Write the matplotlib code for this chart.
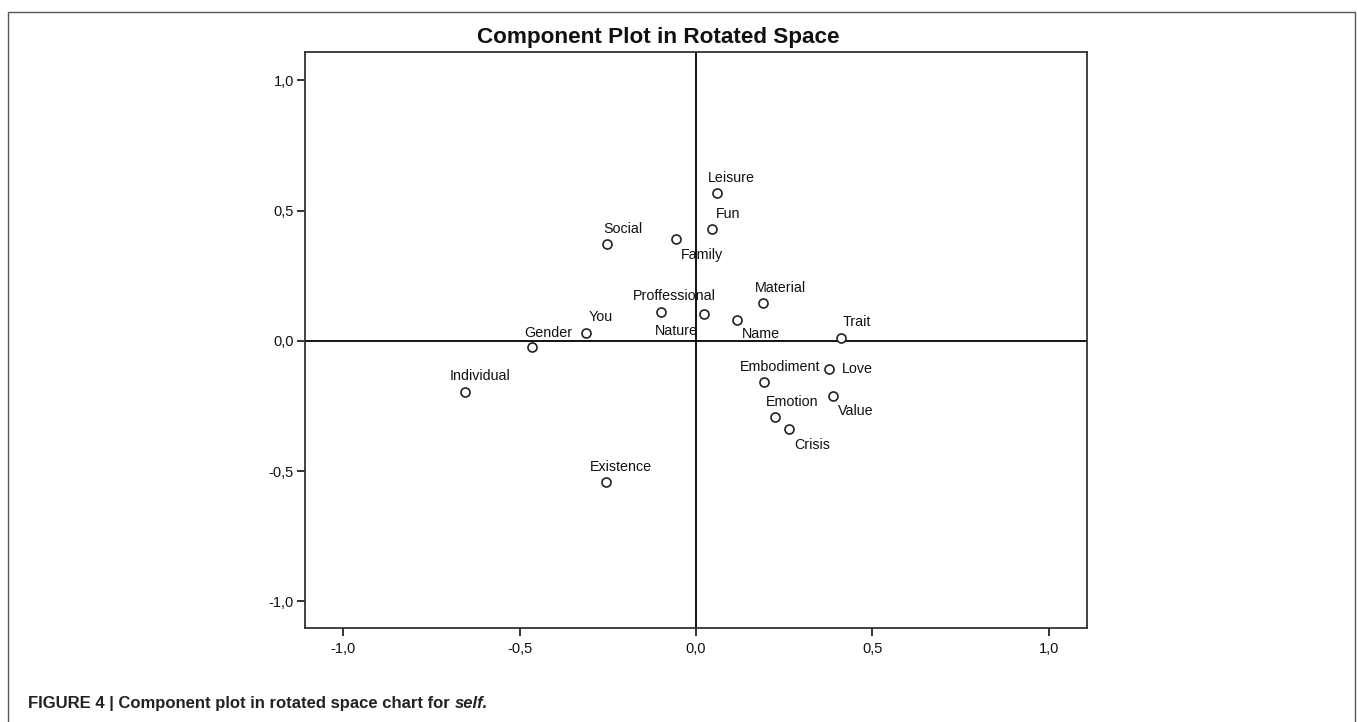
import matplotlib.pyplot as plt
from matplotlib.patches import Rectangle

plt.rcParams['font.family'] = ['Liberation Sans', 'DejaVu Sans']

# Component loadings (rotated space)
names = ['Leisure', 'Fun', 'Family', 'Social', 'Proffessional', 'Nature', 'Name',
         'Material', 'Trait', 'You', 'Gender', 'Individual', 'Existence',
         'Embodiment', 'Love', 'Value', 'Emotion', 'Crisis']
comp1 = [0.059, 0.046, -0.056, -0.252, -0.099, 0.023, 0.116,
         0.190, 0.412, -0.312, -0.464, -0.656, -0.256,
         0.193, 0.377, 0.387, 0.225, 0.263]
comp2 = [0.567, 0.431, 0.393, 0.371, 0.111, 0.104, 0.081,
         0.146, 0.010, 0.030, -0.024, -0.197, -0.540,
         -0.156, -0.109, -0.210, -0.292, -0.339]

tick_vals = [-1.0, -0.5, 0.0, 0.5, 1.0]
tick_labels = ['-1,0', '-0,5', '0,0', '0,5', '1,0']

# label placement (pixel offsets from point, SPSS-like)
label_offsets = {
    'Leisure': (-9, -16, 'left'), 'Fun': (4, -16, 'left'), 'Family': (5, 15, 'left'),
    'Social': (-4, -16, 'left'), 'Proffessional': (-28, -17, 'left'),
    'Nature': (-6, 16, 'right'), 'Name': (5, 13, 'left'), 'Material': (-8, -16, 'left'),
    'Trait': (1, -17, 'left'), 'You': (3, -17, 'left'), 'Gender': (-8, -15, 'left'),
    'Individual': (-15, -17, 'left'), 'Existence': (-16, -16, 'left'),
    'Embodiment': (-24, -16, 'left'), 'Love': (13, -1, 'left'), 'Value': (5, 14, 'left'),
    'Emotion': (-10, -16, 'left'), 'Crisis': (5, 15, 'left'),
}

W, H = 1357, 722
fig = plt.figure(figsize=(W / 100, H / 100), dpi=100)
fig.patch.set_facecolor('white')

# outer frame of the figure panel
fig.patches.append(Rectangle((8 / W, -0.05), (1355 - 8) / W, 1.05 - 12 / H,
                             transform=fig.transFigure, fill=False,
                             edgecolor='#555555', linewidth=1.0))

ax = fig.add_axes([305 / W, (H - 628) / H, (1087 - 305) / W, (628 - 52) / H])
ax.set_xlim(-1.108, 1.108)
ax.set_ylim(-1.102, 1.109)

ax.axhline(0, color='black', linewidth=1.3, zorder=1)
ax.axvline(0, color='black', linewidth=1.3, zorder=1)

ax.plot(comp1, comp2, linestyle='none', marker='o', markersize=6.5,
        markerfacecolor='white', markeredgecolor='#222222', markeredgewidth=1.2, zorder=3)

for n, x, y in zip(names, comp1, comp2):
    dx, dy, ha = label_offsets[n]
    ax.annotate(n, (x, y), xytext=(dx, -dy - 5), textcoords='offset pixels',
                ha=ha, va='baseline', fontsize=10.3, color='#111111', zorder=4)

ax.set_xticks(tick_vals)
ax.set_xticklabels(tick_labels)
ax.set_yticks(tick_vals)
ax.set_yticklabels(tick_labels)
ax.tick_params(axis='both', direction='out', length=6, width=1.2, labelsize=10.5,
               colors='#111111')
ax.tick_params(axis='x', pad=4)
ax.tick_params(axis='y', pad=2)
for s in ax.spines.values():
    s.set_linewidth(1.3)
    s.set_color('#333333')

fig.text(658 / W, 1 - 43.5 / H, 'Component Plot in Rotated Space', ha='center',
         va='baseline', fontsize=16.2, fontweight='bold', color='#111111')

# caption with italic last word
cap = fig.text(28 / W, 1 - 708 / H, 'FIGURE 4 | Component plot in rotated space chart for ',
               ha='left', va='baseline', fontsize=12, fontweight='bold', color='#222222')
fig.canvas.draw()
bb = cap.get_window_extent()
fig.text(bb.x1 / W, 1 - 708 / H, 'self.', ha='left', va='baseline', fontsize=12,
         fontweight='bold', fontstyle='italic', color='#222222')

fig.savefig('out.png', dpi=100)
